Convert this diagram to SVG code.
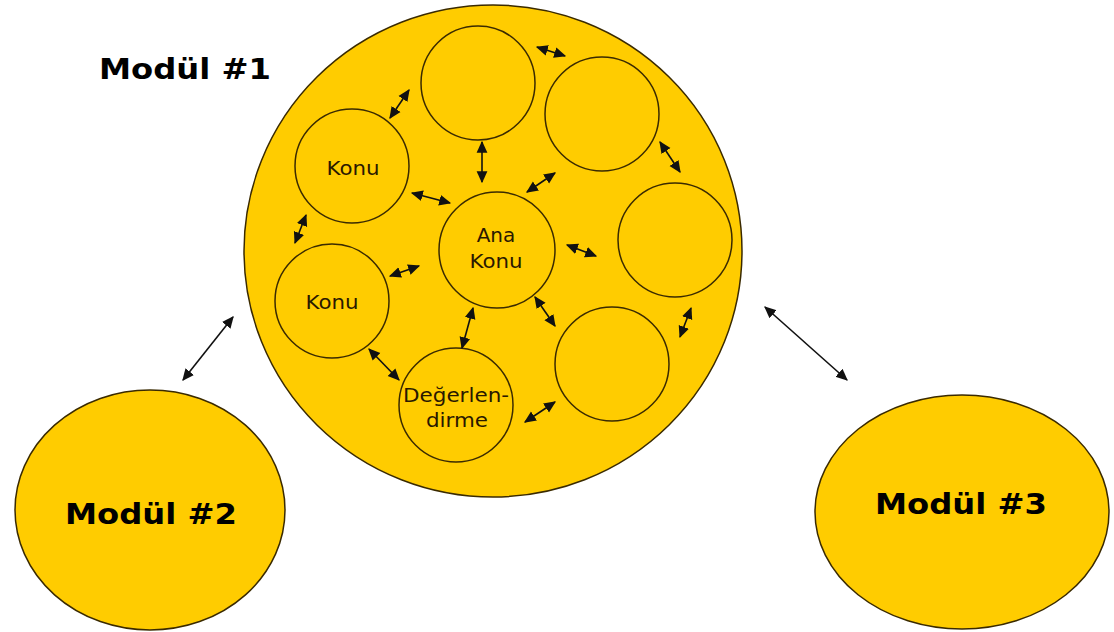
<svg xmlns="http://www.w3.org/2000/svg" width="1114" height="632" viewBox="0 0 1114 632">
<defs>
<marker id="ah" viewBox="0 0 10 10" refX="9" refY="5" markerWidth="12" markerHeight="12" markerUnits="userSpaceOnUse" orient="auto-start-reverse">
<path d="M0,0.5 L10,5 L0,9.5 z" fill="#111"/>
</marker>
<style>
.big{fill:#FFCC00;stroke:#3a2a00;stroke-width:1.5}
.in{fill:#FFCC00;stroke:#3a2a00;stroke-width:1.5}
.lbl{font-family:"DejaVu Sans",Verdana,sans-serif;font-size:20px;fill:#2a1800;text-anchor:middle}
.mod{font-family:"DejaVu Sans",Verdana,sans-serif;font-size:29px;font-weight:bold;fill:#000;text-anchor:middle}
.c{stroke:#111;stroke-width:1.6;fill:none;marker-start:url(#ah);marker-end:url(#ah)}
</style>
</defs>
<rect width="1114" height="632" fill="#fff"/>
<g id="modul1">
<ellipse class="big" cx="493" cy="251" rx="249" ry="246"/>
<text class="mod" x="185" y="79" textLength="172" lengthAdjust="spacingAndGlyphs">Modül #1</text>
</g>
<g id="modul2">
<ellipse class="big" cx="150" cy="510" rx="135" ry="120"/>
<text class="mod" x="151" y="524" textLength="172" lengthAdjust="spacingAndGlyphs">Modül #2</text>
</g>
<g id="modul3">
<ellipse class="big" cx="962" cy="512" rx="147" ry="117"/>
<text class="mod" x="961" y="514" textLength="172" lengthAdjust="spacingAndGlyphs">Modül #3</text>
</g>
<g id="top"><circle class="in" cx="478" cy="83" r="57"/></g>
<g id="topright"><circle class="in" cx="602" cy="114" r="57"/></g>
<g id="right"><circle class="in" cx="675" cy="240" r="57"/></g>
<g id="lowerright"><circle class="in" cx="612" cy="364" r="57"/></g>
<g id="degerlendirme"><circle class="in" cx="456" cy="405" r="57"/>
<text class="lbl" x="456" y="402" textLength="106" lengthAdjust="spacingAndGlyphs">Değerlen-</text>
<text class="lbl" x="457" y="427" textLength="62" lengthAdjust="spacingAndGlyphs">dirme</text></g>
<g id="konu2"><circle class="in" cx="332" cy="301" r="57"/>
<text class="lbl" x="332" y="309" textLength="53" lengthAdjust="spacingAndGlyphs">Konu</text></g>
<g id="konu1"><circle class="in" cx="352" cy="166" r="57"/>
<text class="lbl" x="353" y="175" textLength="53" lengthAdjust="spacingAndGlyphs">Konu</text></g>
<g id="anakonu"><circle class="in" cx="497" cy="250" r="58"/>
<text class="lbl" x="496" y="242">Ana</text>
<text class="lbl" x="496" y="268" textLength="53" lengthAdjust="spacingAndGlyphs">Konu</text></g>
<g id="connectors">
<line class="c" x1="390" y1="118" x2="409" y2="90"/>
<line class="c" x1="537" y1="47" x2="565" y2="56"/>
<line class="c" x1="482" y1="142" x2="482" y2="182"/>
<line class="c" x1="412" y1="193" x2="450" y2="203"/>
<line class="c" x1="306" y1="215" x2="295" y2="243"/>
<line class="c" x1="390" y1="276" x2="419" y2="266"/>
<line class="c" x1="527" y1="192" x2="555" y2="173"/>
<line class="c" x1="660" y1="142" x2="680" y2="172"/>
<line class="c" x1="567" y1="245" x2="596" y2="256"/>
<line class="c" x1="535" y1="297" x2="555" y2="326"/>
<line class="c" x1="691" y1="308" x2="680" y2="337"/>
<line class="c" x1="473" y1="308" x2="462" y2="348"/>
<line class="c" x1="369" y1="349" x2="399" y2="380"/>
<line class="c" x1="525" y1="422" x2="555" y2="402"/>
<line class="c" x1="183" y1="380" x2="233" y2="317"/>
<line class="c" x1="765" y1="307" x2="847" y2="380"/>
</g>
</svg>
